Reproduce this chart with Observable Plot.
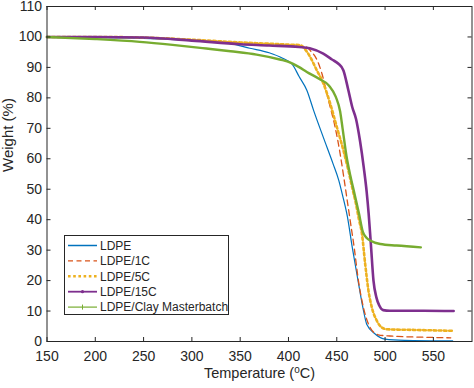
<!DOCTYPE html>
<html>
<head>
<meta charset="utf-8">
<script src="https://cdn.jsdelivr.net/npm/d3@7"></script>
<script src="https://cdn.jsdelivr.net/npm/@observablehq/plot@0.6"></script>
<style>
  html, body { margin: 0; padding: 0; background: #fff; }
  #wrap { position: relative; width: 474px; height: 388px; font-family: "Liberation Sans", Arial, sans-serif; }
  #legend { position: absolute; left: 64px; top: 235px; width: 165px; height: 80px; border: 1px solid #262626; background: #fff; box-sizing: border-box; }
</style>
</head>
<body>
<div id="wrap"><div id="legend"></div></div>
<script>
// ---- Data ----
const xTicks = [150, 200, 250, 300, 350, 400, 450, 500, 550];
const yTicks = [0, 10, 20, 30, 40, 50, 60, 70, 80, 90, 100, 110];
const xLabel = "Temperature (oC)";
const yLabel = "Weight (%)";

const seriesNames = ["LDPE", "LDPE/1C", "LDPE/5C", "LDPE/15C", "LDPE/Clay Masterbatch"];
const seriesColors = ["#0072BD", "#D95319", "#EDB120", "#7E2F8E", "#77AC30"];

const ldpeT = [150, 200, 250, 300, 340, 360, 380, 394, 404, 411, 419, 426, 436, 446, 452, 456, 461, 466, 472, 477, 481, 490, 500, 520, 570];
const ldpeW = [100, 99.8, 99.5, 98.8, 97.8, 96.3, 94.8, 93, 91, 87, 82.5, 75.9, 67.1, 58.5, 53, 48, 41, 31, 20, 11.2, 5.7, 2.4, 0.8, 0.4, 0.2];

const c1T = [150, 200, 250, 300, 350, 400, 418, 424, 428, 434.6, 441.4, 448.3, 453.5, 457, 460.5, 464, 468, 472.4, 477.6, 484.5, 493, 505, 540, 568];
const c1W = [100, 100, 99.7, 99, 98.1, 97.3, 96.8, 95, 93.4, 88, 79.2, 70.4, 61.6, 54.5, 47, 39.5, 30.9, 20, 11.2, 4.6, 2.2, 1.8, 1.4, 1.2];

const c5T = [150, 200, 250, 300, 350, 400, 412, 417, 422.5, 429.4, 436.2, 443.2, 450.1, 456.9, 462, 466, 470, 473, 476, 479.4, 482.8, 486.3, 491.5, 496.6, 502, 530, 570];
const c5W = [100, 100, 99.8, 99.1, 98.2, 97.5, 97.3, 96, 93.4, 89, 84.7, 78.1, 70.4, 62.7, 56.2, 50.5, 45, 40, 35.5, 25.5, 16.7, 11.2, 6.8, 4.6, 4.0, 3.8, 3.5];

const c15T = [150, 200, 250, 300, 350, 380, 411, 422, 436, 445, 451.7, 456.9, 462, 466, 470, 474, 478, 481, 483, 485.3, 488, 491, 494, 498, 505, 540, 571];
const c15W = [100, 100, 99.8, 98.8, 97.6, 97.2, 96.7, 96.3, 94.5, 92.6, 91.2, 89, 82.5, 77, 73, 66, 57, 49, 42, 32, 20, 14.5, 11.8, 10.3, 10.1, 10.1, 10.0];

const mbT = [150, 200, 246, 280, 315, 340, 367, 391, 402, 411, 419, 432, 442, 449, 453.5, 456, 460, 464, 468, 473, 477, 481, 485, 495, 512, 537];
const mbW = [100, 99.3, 98.4, 97.4, 96.2, 95.3, 94.2, 92.6, 91.6, 90.1, 88.5, 86.2, 84, 80.3, 75.5, 70, 61, 54.5, 49, 42, 36, 34, 33.1, 32, 31.5, 30.9];

// ---- Build tables ----
const seriesT = [ldpeT, c1T, c5T, c15T, mbT];
const seriesW = [ldpeW, c1W, c5W, c15W, mbW];
const tables = seriesT.map((ts, i) => ts.map((t, j) => ({series: seriesNames[i], T: t, W: seriesW[i][j]})));

const styles = [
  {strokeWidth: 1.2},
  {strokeWidth: 1.3, strokeDasharray: "6,4"},
  {strokeWidth: 2.6, strokeDasharray: "2.6,2.6"},
  {strokeWidth: 2.6},
  {strokeWidth: 2.4}
];

const W = 474, H = 388;
const mL = 46.5, mR = 2.5, mT = 6, mB = 47;
const plotW = W - mL - mR, plotH = H - mT - mB;
const tickLen = 4;
const ink = "#262626";

const chart = Plot.plot({
  width: W,
  height: H,
  marginLeft: mL,
  marginRight: mR,
  marginTop: mT,
  marginBottom: mB,
  style: {fontFamily: "'Liberation Sans', Arial, sans-serif", fontSize: "14px", background: "#fff", color: ink, overflow: "visible"},
  x: {domain: [150, 590]},
  y: {domain: [0, 110]},
  marks: [
    ...tables.map((tab, i) => Plot.line(tab, {x: "T", y: "W", stroke: seriesColors[i], curve: "monotone-x", ...styles[i]})),
    Plot.frame({stroke: ink, strokeWidth: 1}),
    Plot.tickX(xTicks, {x: d => d, stroke: ink, insetTop: plotH - tickLen}),
    Plot.tickX(xTicks, {x: d => d, stroke: ink, insetBottom: plotH - tickLen}),
    Plot.tickY(yTicks, {y: d => d, stroke: ink, insetRight: plotW - tickLen}),
    Plot.tickY(yTicks, {y: d => d, stroke: ink, insetLeft: plotW - tickLen}),
    Plot.axisX({ticks: xTicks, tickSize: 0, tickPadding: 10, label: null, tickFormat: d => String(d), fill: ink, fontSize: 14}),
    Plot.axisY({ticks: yTicks, tickSize: 0, tickPadding: 5, label: null, tickFormat: d => String(d), fill: ink, fontSize: 14}),
    Plot.text([xLabel], {frameAnchor: "bottom", dy: 36.5, text: d => d, fill: ink, fontSize: 14.5}),
    Plot.text([yLabel], {frameAnchor: "left", dx: -38.5, dy: -2, rotate: -90, text: d => d, fill: ink, fontSize: 15})
  ]
});

// superscript "o" in the x label
d3.select(chart).selectAll("text").filter(function () { return this.textContent === xLabel; }).each(function () {
  const t = d3.select(this);
  t.text(null);
  t.append("tspan").text("Temperature (");
  t.append("tspan").attr("dy", -5.5).attr("font-size", "10px").text("o");
  t.append("tspan").attr("dy", 5.5).text("C)");
});

document.getElementById("wrap").prepend(chart);
chart.style.position = "absolute";
chart.style.left = "0px";
chart.style.top = "0px";

// ---- Legend ----
const leg = d3.select("#legend").append("svg").attr("width", 163).attr("height", 78)
  .style("font-family", "'Liberation Sans', Arial, sans-serif");
const legStyles = [
  {w: 1.5, dash: null},
  {w: 1.3, dash: "5,3.5"},
  {w: 2.6, dash: "2.6,2.6"},
  {w: 1.8, dash: null},
  {w: 1.2, dash: null}
];
seriesNames.forEach((name, i) => {
  const y = 9.5 + i * 15.4;
  leg.append("line").attr("x1", 3).attr("x2", 32).attr("y1", y).attr("y2", y)
    .attr("stroke", seriesColors[i]).attr("stroke-width", legStyles[i].w)
    .attr("stroke-dasharray", legStyles[i].dash);
  if (i === 3) leg.append("circle").attr("cx", 17.5).attr("cy", y).attr("r", 1.6).attr("fill", seriesColors[i]);
  if (i === 4) {
    leg.append("line").attr("x1", 17.5).attr("x2", 17.5).attr("y1", y - 2.5).attr("y2", y + 2.5).attr("stroke", seriesColors[i]).attr("stroke-width", 1);
  }
  leg.append("text").attr("x", 35).attr("y", y).attr("dy", "0.35em").attr("font-size", 12).attr("fill", ink).text(name);
});
</script>
</body>
</html>
